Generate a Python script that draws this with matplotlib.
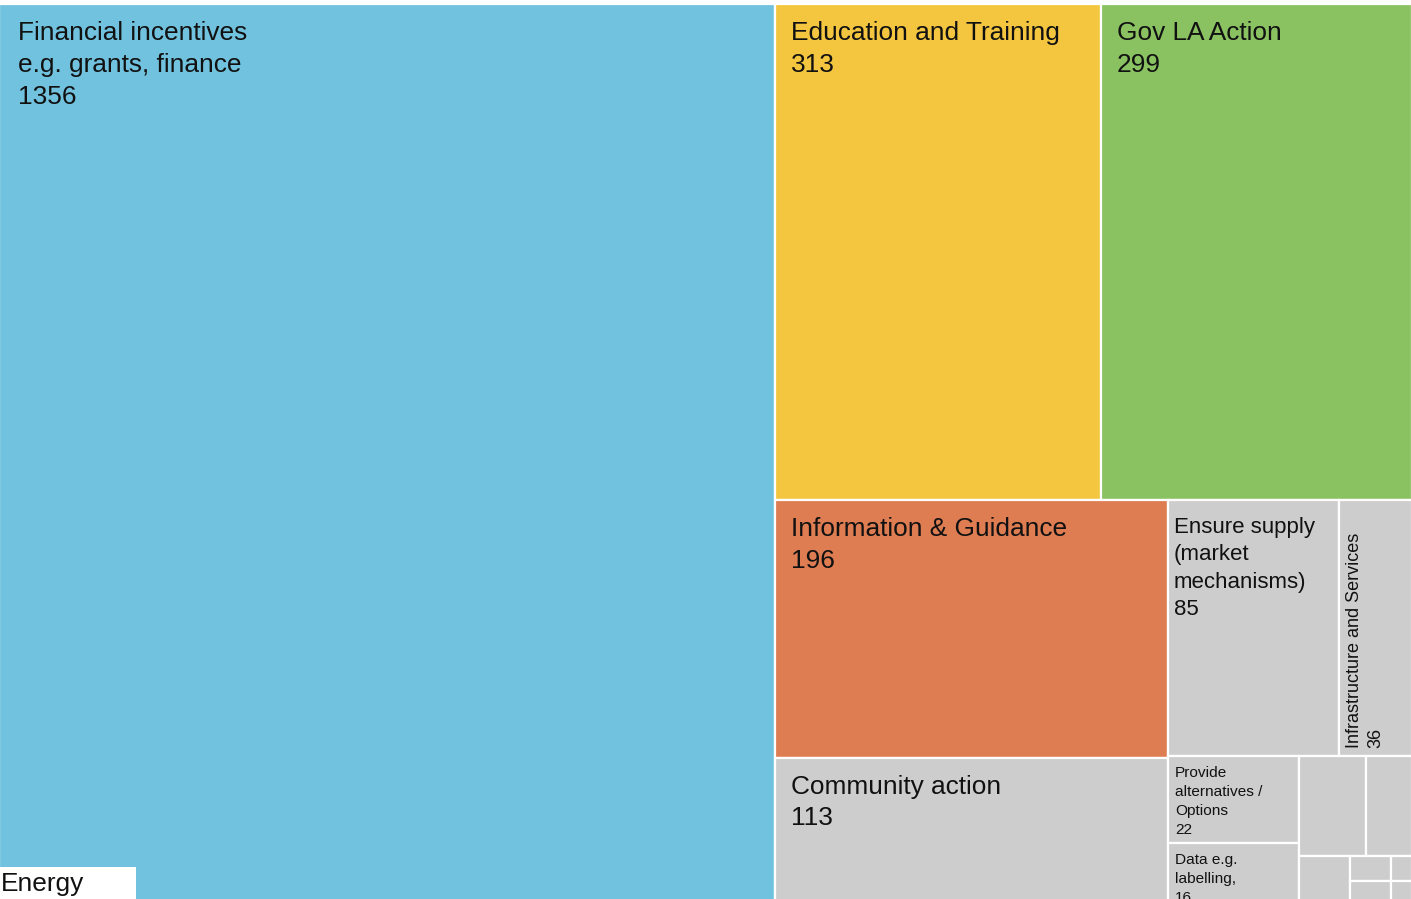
import matplotlib.pyplot as plt
from matplotlib.patches import Rectangle

plt.rcParams['font.family'] = ['Liberation Sans', 'DejaVu Sans']

# ---- data -------------------------------------------------------------
labels = [
    "Financial incentives\ne.g. grants, finance",
    "Education and Training",
    "Gov LA Action",
    "Information & Guidance",
    "Community action",
    "Ensure supply\n(market\nmechanisms)",
    "Infrastructure and Services",
    "Provide\nalternatives /\nOptions",
    "Data e.g.\nlabelling,",
    "", "", "", "", "", "", "",
]
values = [1356, 313, 299, 196, 113, 85, 36, 22, 16, 13, 9, 5, 2, 1, 2, 1]
group_label = "Energy"

# ---- styles -----------------------------------------------------------
BLUE, YELLOW, GREEN, ORANGE, GREY = "#71C2DE", "#F4C640", "#8AC262", "#DE7C52", "#CDCDCD"
colors = [BLUE, YELLOW, GREEN, ORANGE] + [GREY] * 12
# label style: (fontsize pt, x inset px, y inset px, linespacing, rotation)
BIG = (18.9, 16, 17, 1.42, 0)
MED = (16.0, 6, 17, 1.4, 0)
ROT = (13.0, 7, 8, 1.3, 90)
SML = (11.1, 7, 10, 1.46, 0)
styles = [BIG, BIG, BIG, BIG, BIG, MED, ROT, SML, SML] + [None] * 7
x_insets_override = {0: 19}

# layout structure: 'h' = side by side, 'v' = stacked (indices refer to values)
structure = ('h', [0,
    ('v', [('h', [1, 2]),
           ('h', [('v', [3, 4]),
                  ('v', [('h', [5, 6]),
                         ('h', [('v', [7, 8]),
                                ('v', [('h', [9, 10]),
                                       ('h', [11, ('v', [('h', [12, 13]),
                                                        ('h', [14, 15])])])])])])])])])


def total(node):
    if isinstance(node, int):
        return values[node]
    return sum(total(k) for k in node[1])


def layout(node, x, y, w, h, out):
    if isinstance(node, int):
        out[node] = (x, y, w, h)
        return
    d, kids = node
    s = total(node)
    pos = 0.0
    for k in kids:
        t = total(k) / s
        if d == 'h':
            layout(k, x + pos * w, y, w * t, h, out)
        else:
            layout(k, x, y + pos * h, w, h * t, out)
        pos += t


# ---- figure -----------------------------------------------------------
fig = plt.figure(figsize=(14.11, 8.99), dpi=100)
ax = fig.add_axes([0, 0, 1, 1])
ax.set_xlim(0, 1411)
ax.set_ylim(899, 0)
ax.axis('off')

rects = {}
layout(structure, -1, 4, 1413, 902, rects)

for i, (x, y, w, h) in rects.items():
    ax.add_patch(Rectangle((x, y), w, h, facecolor=colors[i], edgecolor='white', linewidth=1.6))
    st = styles[i]
    if st is None:
        continue
    fs, xi, yi, ls, rot = st
    xi = x_insets_override.get(i, xi)
    txt = f"{labels[i]}\n{values[i]}"
    if rot == 90:
        ax.text(x + xi, y + h - yi, txt, rotation=90, ha='left', va='bottom',
                fontsize=fs, linespacing=ls, color='#111111', clip_on=True)
    else:
        ax.text(x + xi, y + yi, txt, ha='left', va='top', fontsize=fs,
                linespacing=ls, color='#111111', clip_on=True)

# group label box
ax.add_patch(Rectangle((0, 867), 136, 40, facecolor='white', edgecolor='none', zorder=5))
ax.text(1, 884, group_label, ha='left', va='center', fontsize=18.9, color='#111111', zorder=6)

fig.savefig("out.png", dpi=100)
